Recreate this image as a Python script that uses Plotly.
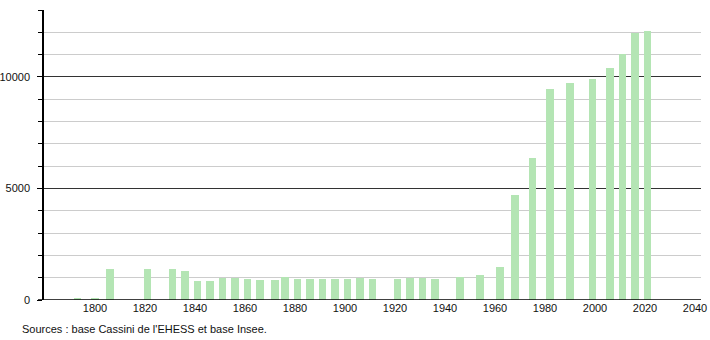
import plotly.graph_objects as go

years = [1793, 1800, 1806, 1821, 1831, 1836, 1841, 1846, 1851, 1856,
         1861, 1866, 1872, 1876, 1881, 1886, 1891, 1896, 1901, 1906,
         1911, 1921, 1926, 1931, 1936, 1946, 1954, 1962, 1968, 1975,
         1982, 1990, 1999, 2006, 2011, 2016, 2021]
population = [80, 90, 1380, 1380, 1380, 1320, 850, 860, 975, 970,
              950, 910, 880, 1020, 960, 950, 950, 950, 950, 970,
              950, 950, 970, 970, 940, 1020, 1120, 1480, 4710, 6380,
              9460, 9720, 9910, 10420, 11030, 11960, 12070]

x_ticks = [1800, 1820, 1840, 1860, 1880, 1900, 1920, 1940, 1960, 1980, 2000, 2020, 2040]
y_ticks = [0, 5000, 10000]
source_text = "Sources : base Cassini de l'EHESS et base Insee."

fig = go.Figure()
fig.add_trace(go.Bar(
    x=years, y=population, width=3.1,
    marker=dict(color="rgb(180,229,180)", line=dict(width=0)),
    hoverinfo="x+y",
))

fig.update_layout(
    width=710, height=340,
    margin=dict(l=44, r=9, t=10, b=40, autoexpand=False),
    paper_bgcolor="white", plot_bgcolor="white",
    font=dict(family="Liberation Sans, Arial, sans-serif", size=11, color="#111"),
    showlegend=False,
    bargap=0,
    xaxis=dict(
        range=[1779.6, 2042.4], automargin=False,
        tickvals=x_ticks, ticks="", showgrid=False, zeroline=False,
        showline=False, tickfont=dict(size=11), fixedrange=True,
    ),
    yaxis=dict(
        range=[0, 13000], automargin=False,
        tickvals=y_ticks, tickformat="d",
        ticks="outside", ticklen=5, tickcolor="#000",
        ticklabelstandoff=5,
        showgrid=True, gridcolor="#333", gridwidth=1,
        minor=dict(dtick=1000, showgrid=True, gridcolor="#cccccc", gridwidth=1,
                   ticks="outside", ticklen=4, tickcolor="#000"),
        zeroline=False, showline=True, linecolor="#000", linewidth=1.5,
        fixedrange=True,
    ),
    annotations=[dict(
        text=source_text, xref="paper", yref="paper",
        x=-24/657, y=-29/290, xanchor="left", yanchor="middle",
        showarrow=False, font=dict(size=11, color="#111"),
    )],
    shapes=[dict(type="line", xref="paper", yref="y", x0=-6/657, x1=1, y0=0, y1=0,
                 line=dict(color="#000", width=1.5), layer="above")],
)

fig.write_html("out.html")
